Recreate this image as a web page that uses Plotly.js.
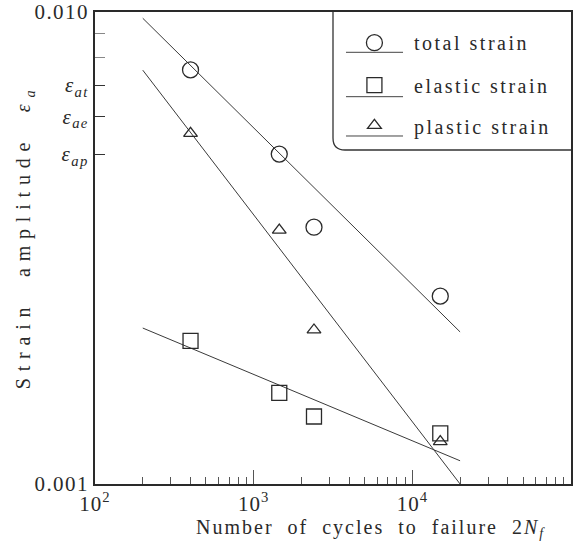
<!DOCTYPE html>
<html>
<head>
<meta charset="utf-8">
<script src="https://cdn.plot.ly/plotly-3.0.1.min.js"></script>
<style>
html,body{margin:0;padding:0;background:#fff;}
#chart{width:582px;height:554px;}
.main-svg .ytick text{letter-spacing:1.4px;}
.main-svg .xtick text{letter-spacing:1px;}
.main-svg .annotation text{letter-spacing:2.5px;}
.main-svg .annotation[data-index="0"] text{letter-spacing:2.0px;}
.main-svg .annotation[data-index="1"] text{letter-spacing:6.8px;}
</style>
</head>
<body>
<div id="chart"></div>
<script>
// ---- data ----
const cycles = [400, 1450, 2400, 15000];
const totalStrain = [0.00754, 0.0050, 0.0035, 0.0025];
const elasticStrain = [0.00201, 0.00156, 0.00139, 0.00128];
const plasticStrain = [0.00553, 0.00345, 0.00212, 0.00123];

const fitCycles = [200, 20000];
const totalFit = [0.0097, 0.0021];
const elasticFit = [0.00214, 0.00112];
const plasticFit = [0.00753, 0.001];

const seriesNames = ['total strain', 'elastic strain', 'plastic strain'];

const yTickVals = [0.001, 0.005, 0.006, 0.007, 0.010];
const yTickText = ['0.001', '<i>ε</i><sub><i>ap</i></sub>', '<i>ε</i><sub><i>ae</i></sub>', '<i>ε</i><sub><i>at</i></sub>', '0.010'];
const yMinorVals = [0.008, 0.009];

const xTickVals = [100, 1000, 10000, 100000];
const xTickText = ['10<sup>2</sup>', '10<sup>3</sup>', '10<sup>4</sup>', '10<sup>5</sup>'];
const xMinorVals = [200,300,400,500,600,700,800,900,2000,3000,4000,5000,6000,7000,8000,9000,20000,30000,40000,50000,60000,70000,80000,90000];

const ink = '#2a2a2a';
const serif = '"Liberation Serif", "Times New Roman", serif';

const lineStyle = {color: '#3a3a3a', width: 1};
const markerLine = {color: ink, width: 1.3};

// legend symbols come from Plotly legends; legend labels are annotations (letter-spaced like the reference)
const traces = [
  {x: fitCycles, y: totalFit, mode: 'lines', line: lineStyle, showlegend: false, hoverinfo: 'skip'},
  {x: fitCycles, y: elasticFit, mode: 'lines', line: lineStyle, showlegend: false, hoverinfo: 'skip'},
  {x: fitCycles, y: plasticFit, mode: 'lines', line: lineStyle, showlegend: false, hoverinfo: 'skip'},
  {x: cycles, y: totalStrain, mode: 'markers', name: '', legend: 'legend',
   marker: {symbol: 'circle-open', size: 16, color: ink, line: markerLine}},
  {x: cycles, y: elasticStrain, mode: 'markers', name: '', legend: 'legend2',
   marker: {symbol: 'square-open', size: 15, color: ink, line: markerLine}},
  {x: cycles, y: plasticStrain, mode: 'markers', name: '', legend: 'legend3',
   marker: {symbol: 'triangle-up-open', size: 12, color: ink, line: markerLine}}
];

const legendBase = {
  xanchor: 'left', yanchor: 'middle', bgcolor: 'rgba(0,0,0,0)', borderwidth: 0,
  font: {family: serif, size: 20, color: ink}, itemwidth: 30
};

const underline = (yp) => ({type: 'line', xref: 'paper', yref: 'paper', x0: 0.5273, x1: 0.6471, y0: yp, y1: yp,
  line: {color: '#444', width: 1}});

const legendLabel = (i, yp) => ({text: seriesNames[i], xref: 'paper', yref: 'paper', x: 0.666, y: yp,
  xanchor: 'left', yanchor: 'middle', align: 'left', showarrow: false, font: {family: serif, size: 20, color: ink}});

const layout = {
  width: 582, height: 554,
  margin: {l: 95, r: 11, t: 12, b: 70},
  paper_bgcolor: '#fff', plot_bgcolor: '#fff',
  font: {family: serif, color: ink, size: 20},
  showlegend: true,
  legend: Object.assign({}, legendBase, {x: 0.545, y: 0.935}),
  legend2: Object.assign({}, legendBase, {x: 0.545, y: 0.845}),
  legend3: Object.assign({}, legendBase, {x: 0.545, y: 0.760}),
  xaxis: {
    type: 'log', range: [2, 5.00003], showgrid: false, zeroline: false,
    showline: true, mirror: true, linecolor: ink, linewidth: 2,
    ticks: 'inside', ticklen: 14, tickwidth: 1, tickcolor: '#555',
    tickmode: 'array', tickvals: xTickVals, ticktext: xTickText,
    tickfont: {family: serif, size: 21, color: ink},
    minor: {ticks: 'inside', ticklen: 7, tickwidth: 1, tickcolor: '#555', tickmode: 'array', tickvals: xMinorVals, showgrid: false}
  },
  yaxis: {
    type: 'log', range: [-3, -2], showgrid: false, zeroline: false,
    showline: true, mirror: true, linecolor: ink, linewidth: 2,
    ticks: 'inside', ticklen: 10, tickwidth: 1, tickcolor: '#333',
    tickmode: 'array', tickvals: yTickVals, ticktext: yTickText,
    tickfont: {family: serif, size: 21, color: ink},
    minor: {ticks: 'inside', ticklen: 10, tickwidth: 1, tickcolor: '#888', tickmode: 'array', tickvals: yMinorVals, showgrid: false}
  },
  shapes: [
    {type: 'path', xref: 'paper', yref: 'paper',
     path: 'M 0.5,1 L 0.5,0.733 Q 0.5,0.7076 0.5252,0.7076 L 1,0.7076',
     line: {color: '#333', width: 1.3}},
    underline(0.9146), underline(0.8206), underline(0.7373)
  ],
  annotations: [
    {text: 'Number  of  cycles  to  failure  2<i>N</i><sub><i>f</i></sub>', xref: 'paper', yref: 'paper',
     x: 0.58, y: -0.094, xanchor: 'center', yanchor: 'middle', showarrow: false,
     font: {family: serif, size: 20, color: ink}},
    {text: 'Strain  amplitude  <i>ε</i><sub><i>a</i></sub>', xref: 'paper', yref: 'paper',
     x: -0.148, y: 0.525, xanchor: 'center', yanchor: 'middle', showarrow: false, textangle: -90,
     font: {family: serif, size: 20, color: ink}},
    legendLabel(0, 0.934), legendLabel(1, 0.843), legendLabel(2, 0.755)
  ]
};

Plotly.newPlot('chart', traces, layout, {staticPlot: true, displayModeBar: false});
</script>
</body>
</html>
